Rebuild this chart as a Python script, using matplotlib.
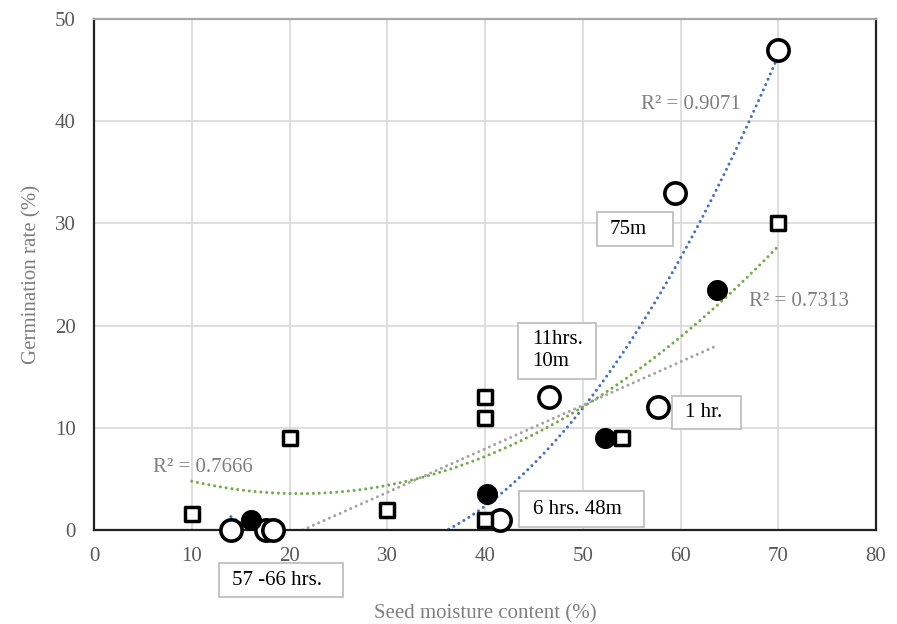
import numpy as np
import matplotlib.pyplot as plt
from matplotlib.patches import Rectangle

plt.rcParams['font.family'] = ['Liberation Serif', 'DejaVu Serif']

# open circles
open_x = [70, 59.4, 46.5, 57.7, 41.5, 14.0, 17.6, 18.3]
open_y = [47, 33, 13, 12, 1, 0, 0, 0]
# filled circles
fill_x = [16.1, 40.2, 52.3, 63.7]
fill_y = [1.0, 3.5, 9.0, 23.5]
# squares
sq_x = [10, 20, 30, 40, 40, 40, 54, 70]
sq_y = [1.6, 9, 2, 13, 11, 1, 9, 30]

box_labels = ["75m", "11hrs.\n10m", "1 hr.", "6 hrs. 48m", "57 -66 hrs."]
r2_labels = ["R² = 0.9071", "R² = 0.7313", "R² = 0.7666"]

GREY_TXT = '#7f7f7f'
FS = 15


def trend(ax, x, y, deg, color):
    coef = np.polyfit(x, y, deg)
    xs = np.linspace(min(x), max(x), 300)
    ys = np.polyval(coef, xs)
    ys = np.where(ys < 0, np.nan, ys)
    ax.plot(xs, ys, color=color, lw=2.2, linestyle=(0, (0.01, 1.9)),
            dash_capstyle='round', zorder=2)


fig = plt.figure(figsize=(8.97, 6.24), dpi=100)
ax = fig.add_axes([94 / 897, 1 - 530 / 624, (876 - 94) / 897, (530 - 19) / 624])

ax.set_xlim(0, 80)
ax.set_ylim(0, 50)
ax.set_xticks(range(0, 81, 10))
ax.set_yticks(range(0, 51, 10))
ax.grid(True, color='#d9d9d9', lw=1.2)
ax.set_axisbelow(True)
ax.tick_params(length=0, labelsize=FS, labelcolor='#595959')
ax.tick_params(axis='x', pad=12)
ax.tick_params(axis='y', pad=13)

for side in ['left', 'bottom', 'right']:
    ax.spines[side].set_color('#222222')
    ax.spines[side].set_linewidth(1.6)
ax.spines['top'].set_color('#a6a6a6')
ax.spines['top'].set_linewidth(1.6)

trend(ax, open_x, open_y, 2, '#4472c4')
trend(ax, sq_x, sq_y, 2, '#70ad47')
trend(ax, fill_x, fill_y, 1, '#a5a5a5')

ax.scatter(open_x, open_y, s=235, facecolors='white', edgecolors='black',
           linewidths=2.6, zorder=4, clip_on=False)
ax.scatter(fill_x, fill_y, s=200, color='black', zorder=4, clip_on=False)
ax.scatter(sq_x, sq_y, s=100, marker='s', facecolors='white',
           edgecolors='black', linewidths=2.5, zorder=4, clip_on=False)

# label boxes: (x0, x1, y0, y1) in data units, text starts at tx
boxes = [(51.5, 59.2, 27.8, 31.1, 52.8),
         (43.4, 51.4, 14.8, 20.25, 44.8),
         (59.1, 66.2, 9.85, 13.1, 60.5),
         (43.5, 56.3, 0.3, 3.8, 44.9),
         (12.8, 25.5, -6.6, -3.2, 14.1)]
for (x0, x1, y0, y1, tx), lab in zip(boxes, box_labels):
    ax.add_patch(Rectangle((x0, y0), x1 - x0, y1 - y0, facecolor='white',
                           edgecolor='#bfbfbf', lw=1.3, zorder=5, clip_on=False))
    ax.text(tx, (y0 + y1) / 2, lab, fontsize=FS, ha='left', va='center',
            color='black', zorder=6, clip_on=False, linespacing=1.2)

r2_pos = [(56.0, 41.6), (67.0, 22.4), (6.0, 6.1)]
for (x, y), lab in zip(r2_pos, r2_labels):
    ax.text(x, y, lab, fontsize=FS, color=GREY_TXT, ha='left', va='center',
            zorder=3)

ax.set_xlabel('Seed moisture content (%)', fontsize=FS, color=GREY_TXT,
              labelpad=28)
ax.set_ylabel('Germination rate (%)', fontsize=FS, color=GREY_TXT,
              labelpad=10)

fig.savefig('out.png', dpi=100)
